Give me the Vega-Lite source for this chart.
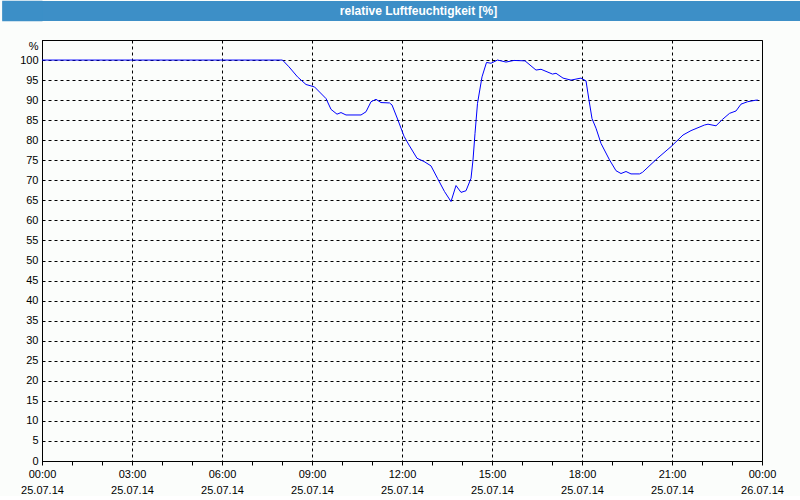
{
  "$schema": "https://vega.github.io/schema/vega-lite/v6.json",
  "background": "#fbfdfb",
  "padding": 0,
  "spacing": 18,
  "config": {"view": {"stroke": "black", "strokeWidth": 1}, "font": "Liberation Sans"},
  "vconcat": [
    {
      "width": 759,
      "height": 20,
      "view": {"fill": "#3d8fc7", "stroke": null},
      "data": {"values": [{"title": "relative Luftfeuchtigkeit [%]"}]},
      "mark": {"type": "text", "color": "white", "font": "Liberation Sans", "fontWeight": "bold", "fontSize": 12, "dx": -3, "baseline": "middle"},
      "encoding": {
        "text": {"field": "title"},
        "y": {
          "datum": 10,
          "type": "quantitative",
          "scale": {"domain": [0, 20], "nice": false, "zero": false},
          "axis": {
            "title": null,
            "values": [1,2,3,4,5,6,7,8,9,10,11,12,13,14,15,16,17,18,19,20],
            "labels": false,
            "domain": false,
            "grid": false,
            "ticks": true,
            "tickSize": 40.3,
            "tickWidth": 1.5,
            "tickCap": "butt",
            "tickColor": "#3d8fc7",
            "minExtent": 41,
            "maxExtent": 41
          }
        }
      }
    },
    {
      "width": 720,
      "height": 421,
      "data": {"values": [
        {"t": "2014-07-25T00:00", "rh": 100},
        {"t": "2014-07-25T08:01", "rh": 100},
        {"t": "2014-07-25T08:14", "rh": 98.3},
        {"t": "2014-07-25T08:31", "rh": 95.8},
        {"t": "2014-07-25T08:48", "rh": 93.9},
        {"t": "2014-07-25T09:05", "rh": 93.3},
        {"t": "2014-07-25T09:28", "rh": 90.4},
        {"t": "2014-07-25T09:38", "rh": 87.7},
        {"t": "2014-07-25T09:50", "rh": 86.5},
        {"t": "2014-07-25T09:58", "rh": 86.9},
        {"t": "2014-07-25T10:08", "rh": 86.3},
        {"t": "2014-07-25T10:38", "rh": 86.3},
        {"t": "2014-07-25T10:48", "rh": 87.1},
        {"t": "2014-07-25T10:58", "rh": 89.6},
        {"t": "2014-07-25T11:08", "rh": 90.2},
        {"t": "2014-07-25T11:18", "rh": 89.4},
        {"t": "2014-07-25T11:35", "rh": 89.3},
        {"t": "2014-07-25T11:40", "rh": 88.8},
        {"t": "2014-07-25T11:52", "rh": 85.0},
        {"t": "2014-07-25T12:04", "rh": 81.0},
        {"t": "2014-07-25T12:14", "rh": 78.8},
        {"t": "2014-07-25T12:30", "rh": 75.5},
        {"t": "2014-07-25T12:44", "rh": 74.7},
        {"t": "2014-07-25T12:58", "rh": 73.6},
        {"t": "2014-07-25T13:11", "rh": 70.5},
        {"t": "2014-07-25T13:25", "rh": 67.2},
        {"t": "2014-07-25T13:38", "rh": 64.7},
        {"t": "2014-07-25T13:48", "rh": 68.7},
        {"t": "2014-07-25T13:58", "rh": 67.0},
        {"t": "2014-07-25T14:08", "rh": 67.4},
        {"t": "2014-07-25T14:18", "rh": 70.5},
        {"t": "2014-07-25T14:22", "rh": 75.1},
        {"t": "2014-07-25T14:26", "rh": 81.7},
        {"t": "2014-07-25T14:31", "rh": 89.2},
        {"t": "2014-07-25T14:40", "rh": 95.8},
        {"t": "2014-07-25T14:49", "rh": 99.4},
        {"t": "2014-07-25T14:58", "rh": 99.2},
        {"t": "2014-07-25T15:11", "rh": 100},
        {"t": "2014-07-25T15:28", "rh": 99.5},
        {"t": "2014-07-25T15:44", "rh": 99.9},
        {"t": "2014-07-25T16:06", "rh": 99.8},
        {"t": "2014-07-25T16:28", "rh": 97.5},
        {"t": "2014-07-25T16:38", "rh": 97.7},
        {"t": "2014-07-25T17:01", "rh": 96.5},
        {"t": "2014-07-25T17:08", "rh": 96.7},
        {"t": "2014-07-25T17:22", "rh": 95.5},
        {"t": "2014-07-25T17:38", "rh": 95.0},
        {"t": "2014-07-25T17:58", "rh": 95.5},
        {"t": "2014-07-25T18:08", "rh": 94.8},
        {"t": "2014-07-25T18:14", "rh": 90.0},
        {"t": "2014-07-25T18:20", "rh": 85.4},
        {"t": "2014-07-25T18:28", "rh": 83.0},
        {"t": "2014-07-25T18:38", "rh": 79.2},
        {"t": "2014-07-25T18:55", "rh": 75.1},
        {"t": "2014-07-25T19:08", "rh": 72.4},
        {"t": "2014-07-25T19:18", "rh": 71.7},
        {"t": "2014-07-25T19:28", "rh": 72.2},
        {"t": "2014-07-25T19:38", "rh": 71.6},
        {"t": "2014-07-25T19:55", "rh": 71.6},
        {"t": "2014-07-25T20:01", "rh": 72.0},
        {"t": "2014-07-25T20:31", "rh": 75.5},
        {"t": "2014-07-25T20:58", "rh": 78.4},
        {"t": "2014-07-25T21:22", "rh": 81.3},
        {"t": "2014-07-25T21:38", "rh": 82.4},
        {"t": "2014-07-25T22:05", "rh": 83.8},
        {"t": "2014-07-25T22:12", "rh": 84.0},
        {"t": "2014-07-25T22:28", "rh": 83.6},
        {"t": "2014-07-25T22:41", "rh": 85.2},
        {"t": "2014-07-25T22:55", "rh": 86.7},
        {"t": "2014-07-25T23:08", "rh": 87.3},
        {"t": "2014-07-25T23:18", "rh": 89.0},
        {"t": "2014-07-25T23:31", "rh": 89.6},
        {"t": "2014-07-25T23:48", "rh": 90.0},
        {"t": "2014-07-25T23:52", "rh": 90.0}
      ]},
      "mark": {"type": "line", "color": "#0000ff", "strokeWidth": 1},
      "encoding": {
        "x": {
          "field": "t",
          "type": "temporal",
          "scale": {"domain": ["2014-07-25T00:00", "2014-07-26T00:00"], "nice": false},
          "axis": {
            "title": null,
            "tickCount": 24,
            "grid": true,
            "gridDash": [3, 3],
            "gridColor": "black",
            "gridOpacity": {"condition": {"test": "hours(datum.value) % 3 == 0", "value": 1}, "value": 0},
            "labelExpr": "hours(datum.value) % 3 == 0 ? [timeFormat(datum.value, '%H:%M'), timeFormat(datum.value, '%d.%m.%y')] : ''",
            "labelFontSize": 11,
            "labelFont": "Liberation Sans",
            "labelColor": "black",
            "labelLineHeight": 16,
            "labelPadding": 3,
            "labelFlush": false,
            "labelOverlap": false,
            "tickSize": 4,
            "tickColor": "black",
            "domainColor": "black"
          }
        },
        "y": {
          "field": "rh",
          "type": "quantitative",
          "scale": {"domain": [0, 105], "nice": false},
          "axis": {
            "title": null,
            "values": [0,5,10,15,20,25,30,35,40,45,50,55,60,65,70,75,80,85,90,95,100,105],
            "labelExpr": "datum.value == 105 ? '%' : datum.label",
            "labelBaseline": {"condition": {"test": "datum.value == 105", "value": "top"}, "value": "middle"},
            "grid": true,
            "gridDash": [3, 3],
            "gridColor": "black",
            "gridOpacity": 1,
            "ticks": false,
            "domainColor": "black",
            "labelPadding": 4,
            "labelFontSize": 11,
            "labelColor": "black",
            "labelFont": "Liberation Sans",
            "minExtent": 41,
            "maxExtent": 41
          }
        }
      }
    }
  ]
}
